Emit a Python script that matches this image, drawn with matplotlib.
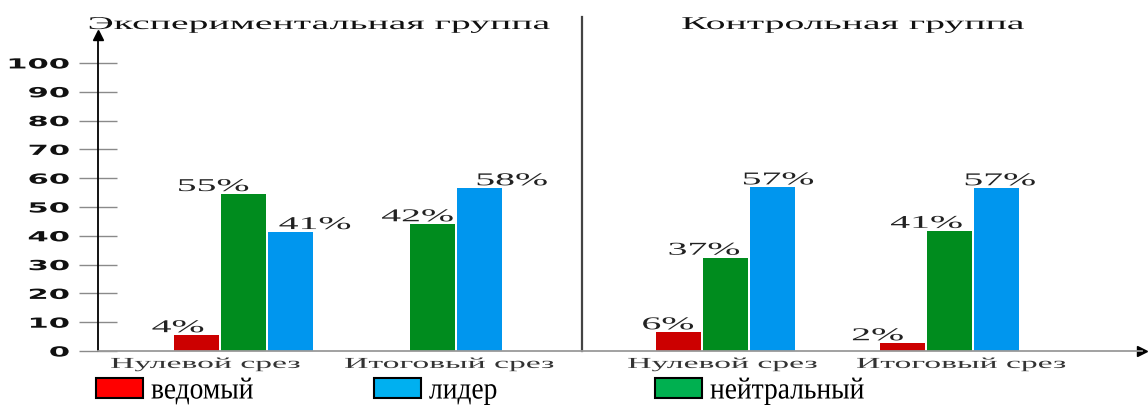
import matplotlib
matplotlib.use('Agg')
import matplotlib.pyplot as plt
import matplotlib.patheffects as pe
from matplotlib.patches import Patch
from matplotlib.transforms import Affine2D

# data
groups = ['Нулевой срез', 'Итоговый срез', 'Нулевой срез', 'Итоговый срез']
panels = ['Экспериментальная группа', 'Контрольная группа']
vedomy = [5.5, 0, 6.5, 2.7]
neutral = [54.5, 44.0, 32.4, 41.7]
leader = [41.3, 56.5, 56.8, 56.5]
vedomy_lbl = ['4%', '', '6%', '2%']
neutral_lbl = ['55%', '42%', '37%', '41%']
leader_lbl = ['41%', '58%', '57%', '57%']
yticks = [0, 10, 20, 30, 40, 50, 60, 70, 80, 90, 100]


class Stretch(pe.AbstractPathEffect):
    # widen (or narrow) the text glyphs horizontally, like the original picture
    def __init__(self, sx, anchor='center'):
        super().__init__()
        self.sx = sx
        self.anchor = anchor

    def draw_path(self, renderer, gc, tpath, affine, rgbFace=None):
        xs = tpath.vertices[:, 0]
        if self.anchor == 'left':
            x0 = xs.min()
        elif self.anchor == 'right':
            x0 = xs.max()
        else:
            x0 = (xs.min() + xs.max()) / 2
        t = Affine2D().translate(-x0, 0).scale(self.sx, 1).translate(x0, 0) + affine
        renderer.draw_path(gc, tpath, t, rgbFace)


W, H = 1148, 405
fig = plt.figure(figsize=(W / 100, H / 100), dpi=100)
ax = fig.add_axes([98 / W, 54 / H, 1044 / W, 316 / H])

# layout (bar pitch units)
centers = [3.10, 7.11, 13.35, 18.11]
label_x = [2.28, 7.47, 13.28, 18.36]
bw = 0.96
series = [
    (vedomy, vedomy_lbl, '#cc0000', -1, [-19, 0, -11, -25]),
    (neutral, neutral_lbl, '#008c1e', 0, [-31, -15, -22, -23]),
    (leader, leader_lbl, '#0096ee', 1, [24, 32, 5, 3]),
]

wide = [Stretch(2.2)]
for vals, lbls, col, off, dxs in series:
    xs = [c + off for c in centers]
    ax.bar(xs, vals, width=bw, color=col, edgecolor='none')
    for x, v, t, dx in zip(xs, vals, lbls, dxs):
        if not t:
            continue
        ax.annotate(t, xy=(x, v), xytext=(dx, 3), textcoords='offset pixels',
                    ha='center', va='baseline', fontsize=13,
                    family='Liberation Serif', color='#222222',
                    path_effects=wide)

ax.set_xlim(0, 22.21)
ax.set_ylim(0, 109.7)

ax.set_yticks(yticks)
ax.tick_params(axis='y', direction='inout', length=27.4, width=1,
               color='#8a8a8a', pad=7, labelsize=10)
for t in ax.get_yticklabels():
    t.set_path_effects([Stretch(2.2, 'right')])
    t.set_color('#111111')
    t.set_fontweight('bold')

ax.set_xticks(label_x)
ax.set_xticklabels(groups, family='Liberation Serif', fontsize=11, color='#333333')
ax.tick_params(axis='x', length=0, pad=5)
for t in ax.get_xticklabels():
    t.set_path_effects(wide)

for s in ['top', 'right']:
    ax.spines[s].set_visible(False)
ax.spines['left'].set_color('black')
ax.spines['left'].set_linewidth(1.3)
ax.spines['bottom'].set_color('#9a9a9a')
ax.spines['bottom'].set_linewidth(1.3)
ax.plot(1, 0, '>', color='black', ms=7, transform=ax.transAxes, clip_on=False)
ax.plot(0, 1, '^', color='black', ms=7, transform=ax.transAxes, clip_on=False)

# divider between the two groups
ax.axvline(10.30, ymin=0, ymax=1.057, color='#444444', lw=1.6, clip_on=False)

# group titles
for txt, cx in zip(panels, [318, 852]):
    fig.text(cx / W, 1 - 29 / H, txt, ha='center', va='baseline',
             fontsize=13, family='Liberation Serif', color='#111111',
             path_effects=wide)

# legend, one entry each at its own place
legend_items = [('ведомый', '#ff0000', 96), ('лидер', '#00b0f0', 374),
                ('нейтральный', '#00b050', 655)]
for name, col, x in legend_items:
    h = Patch(facecolor=col, edgecolor='black', linewidth=1.5)
    leg = fig.legend([h], [name], loc='center left',
                     bbox_to_anchor=(x / W, 1 - 391 / H), frameon=False,
                     borderpad=0, borderaxespad=0, handlelength=1.55,
                     handleheight=0.62, handletextpad=0.25,
                     prop={'family': 'Liberation Serif', 'size': 22})
    for t in leg.get_texts():
        t.set_path_effects([Stretch(0.9, 'left')])

fig.savefig('out.png', dpi=100)
